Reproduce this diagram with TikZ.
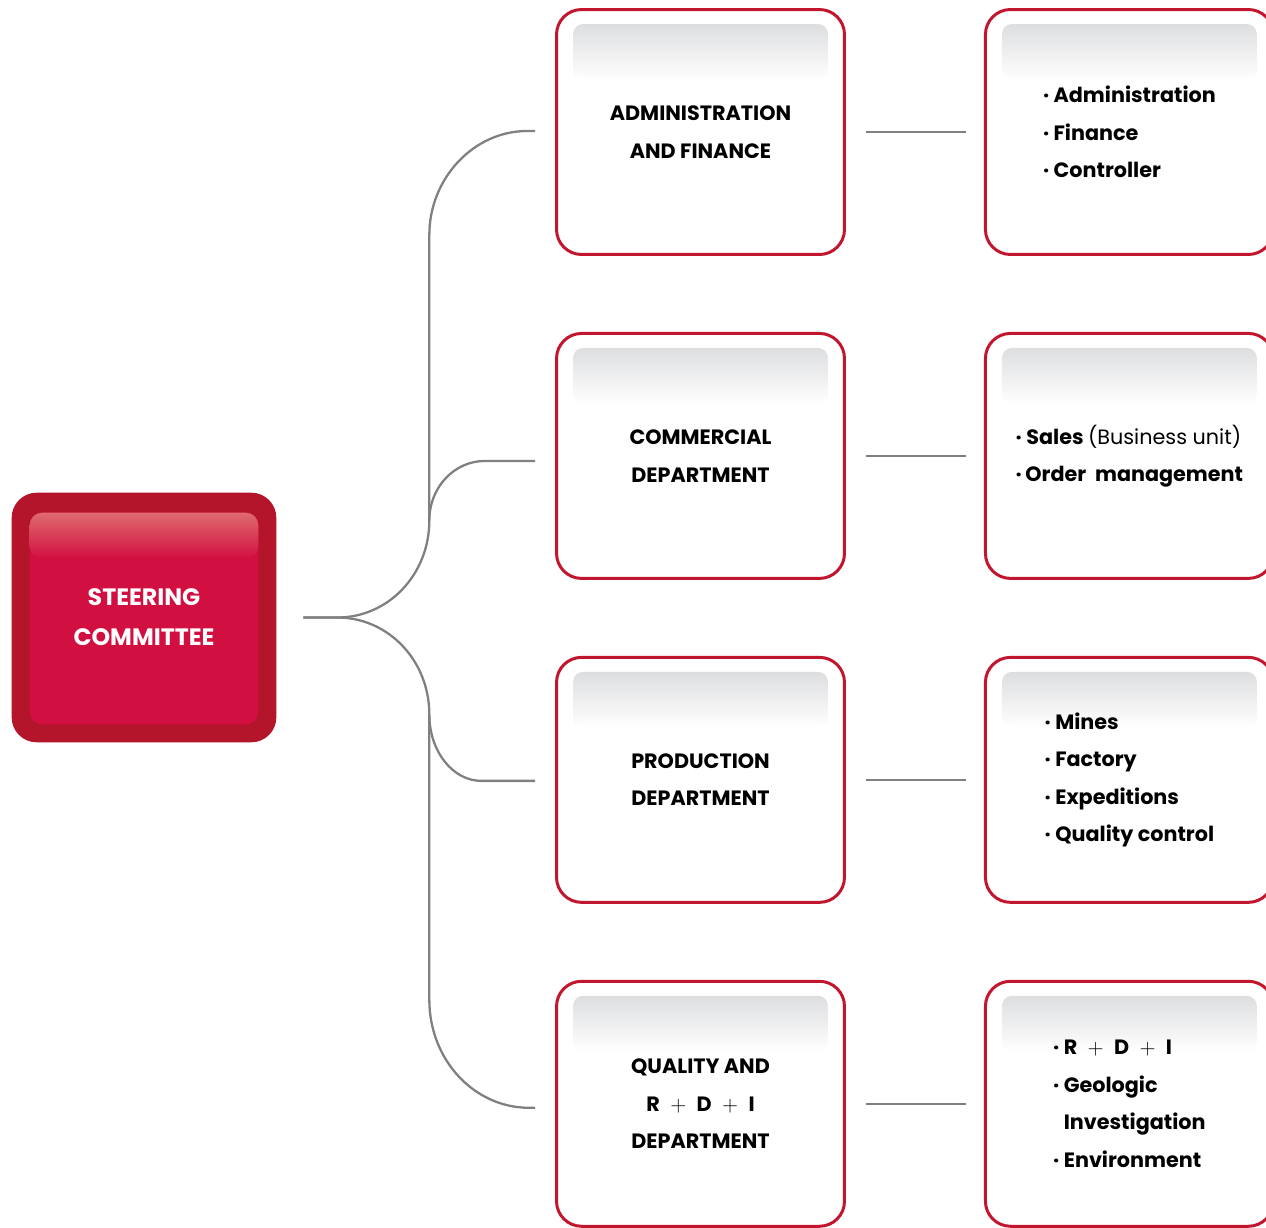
\documentclass[tikz,border=0pt]{standalone}
\usepackage{fontspec}
\setmainfont{Poppins}
\usepackage{tikz}
\usetikzlibrary{
	positioning
}

\definecolor{boxred}{HTML}{C2162F}
\definecolor{steerdark}{HTML}{B5152B}
\definecolor{steerred}{HTML}{D20F41}
\definecolor{steerlight}{HTML}{E06A6E}
\definecolor{bandgray}{HTML}{DDDEE0}
\definecolor{linkgray}{HTML}{808080}

\newcommand{\rdi}{R\enspace$+$\enspace D\enspace$+$\enspace I}

\pgfdeclarelayer{back}
\pgfsetlayers{back,main}

\tikzset{
	box/.style={draw=boxred, line width=1.7pt, rounded corners=0.5cm,
		minimum width=5.76cm, minimum height=4.9cm, align=center,
		font=\bfseries\fontsize{11.8}{21.3}\selectfont},
	listbox/.style={box, align=left},
	steering/.style={minimum width=5.28cm, minimum height=4.98cm,
		align=center, text=white,
		font=\bfseries\fontsize{13.5}{22.7}\selectfont},
	band/.style={top color=bandgray, bottom color=white, rounded corners=0.2cm},
	link/.style={draw=linkgray, line width=1.3pt}
}

\begin{document}
\begin{tikzpicture}[x=0.02cm, y=-0.02cm]
	\useasboundingbox (0,0) rectangle (1266,1227);
	\clip (0,0) rectangle (1266,1227);

	\node[steering] (steer) at (144,617.5) {STEERING\\COMMITTEE};

	% departments
	\node[box]                      (adm) at (700.5,132) {ADMINISTRATION\\AND FINANCE};
	\node[box, below=1.52cm of adm] (com) {COMMERCIAL\\DEPARTMENT};
	\node[box, below=1.52cm of com] (pro) {PRODUCTION\\DEPARTMENT};
	\node[box, below=1.52cm of pro] (qua) {QUALITY AND\\\rdi\\DEPARTMENT};

	% sections
	\node[listbox, right=2.76cm of adm] (admL) {· Administration\\· Finance\\· Controller};
	\node[listbox, right=2.76cm of com] (comL) {· Sales {\mdseries (Business unit)}\\·\,Order~~management};
	\node[listbox, right=2.76cm of pro] (proL) {· Mines\\· Factory\\· Expeditions\\· Quality control};
	\node[listbox, right=2.76cm of qua] (quaL) {· \rdi\\· Geologic\\\phantom{· }Investigation\\· Environment};

	\begin{pgfonlayer}{back}
		\fill[steerdark, rounded corners=0.5cm] (steer.north west) rectangle (steer.south east);
		\fill[steerred, rounded corners=0.25cm]
			([shift={(18,20)}]steer.north west) rectangle ([shift={(-18,-18)}]steer.south east);
		\shade[top color=steerlight, bottom color=steerred, rounded corners=0.25cm]
			([shift={(18,20)}]steer.north west) rectangle ([shift={(-18,66)}]steer.north east);
		\foreach \b in {adm,com,pro,qua,admL,comL,proL,quaL}
			\shade[band] ([shift={(18,16)}]\b.north west) rectangle ([shift={(-18,72)}]\b.north east);
	\end{pgfonlayer}

	\coordinate (root) at ([xshift=0.54cm]steer.east);
	\coordinate (a-in) at ([shift={(-20,-1)}]adm.west);
	\coordinate (c-in) at ([shift={(-20,5)}]com.west);
	\coordinate (p-in) at ([shift={(-20,1)}]pro.west);
	\coordinate (q-in) at ([shift={(-20,4)}]qua.west);
	\coordinate (a-knee) at ([shift={(0,104)}]a-in);
	\coordinate (q-knee) at ([shift={(0,-108)}]q-in);

	% tree
	\draw[link] (root) -- ++(34,0) .. controls +(51,0) and +(0,54) .. ++(92,-97) coordinate (j1)
		-- (j1 |- a-knee) .. controls +(0,-57) and +(-53,0) .. ([shift={(-8,0)}]a-in) -- (a-in);
	\draw[link] (j1) .. controls +(0,-33) and +(-31,0) .. ([shift={(-50,0)}]c-in) -- (c-in);
	\draw[link] (root) -- ++(34,0) .. controls +(51,0) and +(0,-54) .. ++(92,97) coordinate (j2)
		-- (j2 |- q-knee) .. controls +(0,60) and +(-55,0) .. ([shift={(-6,0)}]q-in) -- (q-in);
	\draw[link] (j2) .. controls +(0,37) and +(-28,0) .. ([shift={(-54,0)}]p-in) -- (p-in);

	\draw[link] ([xshift=0.4cm]adm.east) -- ([xshift=-0.36cm]admL.west);
	\draw[link] ([xshift=0.4cm]com.east) -- ([xshift=-0.36cm]comL.west);
	\draw[link] ([xshift=0.4cm]pro.east) -- ([xshift=-0.36cm]proL.west);
	\draw[link] ([xshift=0.4cm]qua.east) -- ([xshift=-0.36cm]quaL.west);
\end{tikzpicture}
\end{document}
